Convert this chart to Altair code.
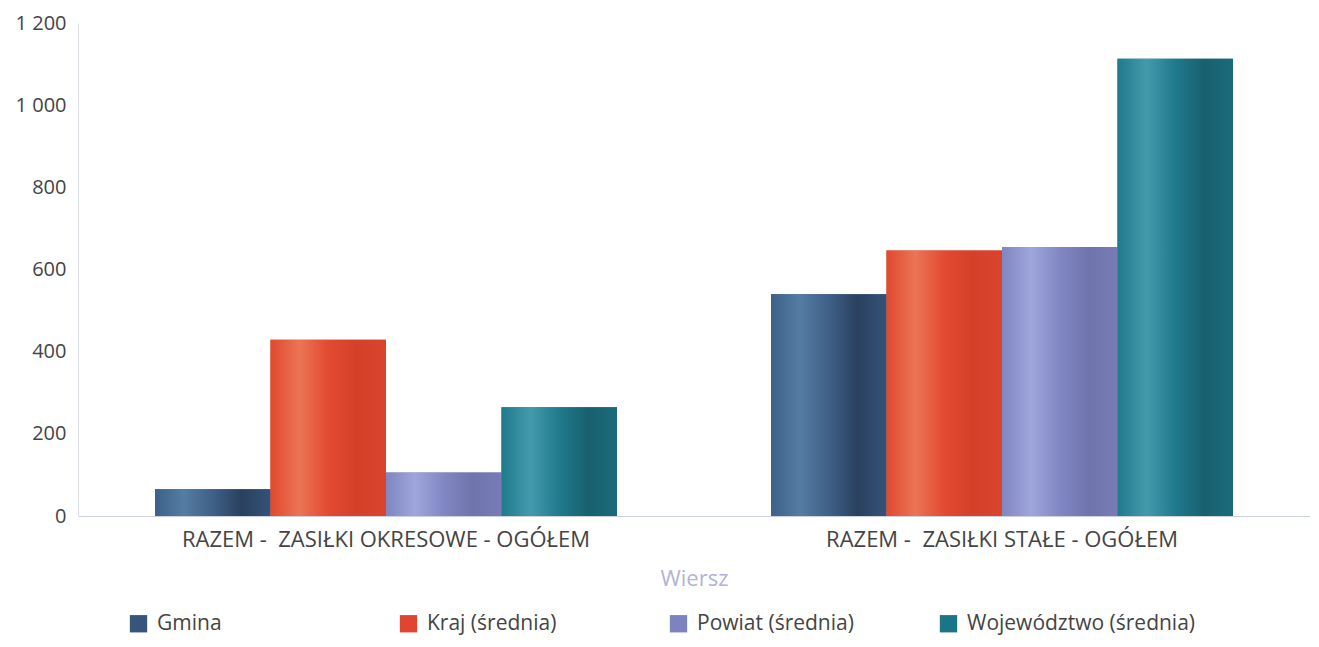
import altair as alt
import pandas as pd

categories = ["RAZEM -\u00a0 ZASIŁKI OKRESOWE - OGÓŁEM", "RAZEM -\u00a0 ZASIŁKI STAŁE - OGÓŁEM"]
series = ["Gmina", "Kraj (średnia)", "Powiat (średnia)", "Województwo (średnia)"]
gmina = [65, 540]
kraj = [429, 646]
powiat = [106, 655]
wojewodztwo = [265, 1113]

base_colors = ["#35557a", "#e0462f", "#7d83be", "#1c7487"]
gradients = [
    ["#3d6189", "#557ca3", "#3f6088", "#2a405e", "#34537a"],
    ["#e0492f", "#ec7455", "#e24a31", "#d44029", "#da442e"],
    ["#7f86c0", "#9fa6dc", "#8187c2", "#7074ad", "#777cb6"],
    ["#1f7a8c", "#449aab", "#1f7a8c", "#19606f", "#1b6b7c"],
]

rows = []
for s, vals in zip(series, [gmina, kraj, powiat, wojewodztwo]):
    for c, v in zip(categories, vals):
        rows.append({"Wiersz": c, "Seria": s, "Wartosc": v})
df = pd.DataFrame(rows)

FONT = "Open Sans"

base = alt.Chart(df).encode(
    x=alt.X(
        "Wiersz:N",
        sort=categories,
        scale=alt.Scale(paddingInner=0.25, paddingOuter=0.125),
        axis=alt.Axis(
            title="Wiersz",
            labelAngle=0,
            labelFontSize=22,
            labelColor="#444444",
            labelPadding=13,
            labelLimit=700,
            titleFontSize=22,
            titleFontWeight="normal",
            titleColor="#b3b3d3",
            titlePadding=18,
            ticks=False,
            domainColor="#ccd0e4",
            grid=False,
        ),
    ),
    xOffset=alt.XOffset("Seria:N", sort=series, scale=alt.Scale(paddingInner=0, paddingOuter=0)),
    y=alt.Y(
        "Wartosc:Q",
        scale=alt.Scale(domain=[0, 1200], nice=False),
        axis=alt.Axis(
            title=None,
            values=[0, 200, 400, 600, 800, 1000, 1200],
            labelExpr="replace(format(datum.value, ','), ',', ' ')",
            labelFontSize=20,
            labelColor="#444444",
            labelPadding=12,
            ticks=False,
            grid=False,
            domainColor="#dcdcea",
        ),
    ),
)

legend_layer = base.mark_bar().encode(
    color=alt.Color(
        "Seria:N",
        sort=series,
        scale=alt.Scale(domain=series, range=base_colors),
        legend=alt.Legend(
            title=None,
            orient="none",
            legendX=50,
            legendY=590,
            direction="horizontal",
            columns=4,
            gridAlign="all",
            columnPadding=12,
            symbolType="square",
            symbolSize=300,
            symbolStrokeWidth=0,
            labelFontSize=21,
            labelColor="#444444",
            labelOffset=8,
            labelLimit=400,
        ),
    )
)

layers = [legend_layer]
for s, stops in zip(series, gradients):
    n = len(stops)
    grad = alt.LinearGradient(
        gradient="linear",
        x1=0, x2=1, y1=0, y2=0,
        stops=[alt.GradientStop(color=c, offset=i / (n - 1)) for i, c in enumerate(stops)],
    )
    layers.append(base.transform_filter(alt.datum.Seria == s).mark_bar(color=grad))

chart = alt.layer(*layers).properties(
    width=1232,
    height=493,
    autosize=alt.AutoSizeParams(type="none"),
    padding={"left": 70, "top": 15, "right": 0, "bottom": 122},
).configure(font=FONT).configure_view(stroke=None)

chart.save("out.html", embed_options={"renderer": "svg", "actions": False})
